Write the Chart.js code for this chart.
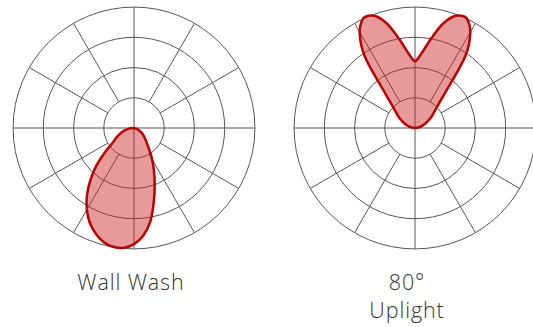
<!DOCTYPE html>
<html>
<head>
<meta charset="utf-8">
<script src="https://cdn.jsdelivr.net/npm/chart.js@4/dist/chart.umd.min.js"></script>
<style>
  html, body { margin: 0; padding: 0; background: #fff; }
  body { width: 533px; height: 327px; overflow: hidden; position: relative;
         font-family: "Open Sans", "Lato", sans-serif; font-weight: 300; color: #333; }
  .plot { position: absolute; width: 260px; height: 260px; }
  .caption { position: absolute; width: 200px; text-align: center;
             font-size: 21.5px; line-height: 28px; letter-spacing: 0.9px; }
</style>
</head>
<body>
<div class="plot" style="left:4px; top:-2px;"><canvas id="wallWash" width="260" height="260"></canvas></div>
<div class="plot" style="left:285px; top:-2px;"><canvas id="uplight" width="260" height="260"></canvas></div>
<div class="caption" style="left:31px; top:268px;">Wall Wash</div>
<div class="caption" style="left:307px; top:268px;">80°<br>Uplight</div>

<script>
// Photometric polar plots: angle is measured clockwise from straight up (0° = up, 180° = down),
// intensity is given in ring units (outer ring = 4).
const angleStep = 5;
const angles = Array.from({ length: 360 / angleStep }, (_, i) => i * angleStep);
const ringValues = [1, 2, 3, 4];
const spokeAngles = [0, 30, 60, 90, 120, 150, 180, 210, 240, 270, 300, 330];

// Wall Wash: asymmetric lobe thrown down and towards the left
const wallWash = [
  0, 0, 0, 0, 0, 0, 0, 0, 0, 0, 0, 0,            //   0 – 55
  0, 0, 0, 0, 0, 0, 0, 0,                        //  60 – 95
  0, 0.06, 0.12, 0.19,                           // 100 – 115
  0.27, 0.35, 0.43, 0.53, 0.67, 0.88,            // 120 – 145
  1.2, 1.56, 2.0, 2.53, 3.13, 3.57,              // 150 – 175
  3.84, 3.98, 3.99, 3.9, 3.71, 3.46,             // 180 – 205
  3.12, 2.71, 2.24, 1.76, 1.25, 0.88,            // 210 – 235
  0.7, 0.57, 0.45, 0.33, 0.22, 0.11,             // 240 – 265
  0, 0, 0, 0, 0, 0, 0, 0, 0, 0, 0, 0,            // 270 – 325
  0, 0, 0, 0, 0, 0                               // 330 – 355
];

// 80° Uplight: twin lobes pointing upwards
const uplight80 = [
  2.21, 2.48, 2.98, 3.57, 3.95, 4.02,            //   0 – 25
  3.66, 2.9, 1.62, 1.09, 0.83, 0.68,             //  30 – 55
  0.53, 0.41, 0.31, 0.22, 0.14, 0.07,            //  60 – 85
  0, 0, 0, 0, 0, 0,                              //  90 – 115
  0, 0, 0, 0, 0, 0, 0, 0, 0, 0, 0, 0,            // 120 – 175
  0, 0, 0, 0, 0, 0, 0, 0, 0, 0, 0, 0,            // 180 – 235
  0, 0, 0, 0, 0, 0,                              // 240 – 265
  0, 0.07, 0.14, 0.22, 0.31, 0.41,               // 270 – 295
  0.53, 0.68, 0.83, 1.09, 1.62, 2.9,             // 300 – 325
  3.66, 4.02, 3.95, 3.57, 2.98, 2.48             // 330 – 355
];

const GRID_COLOR = '#555555';
const LINE_COLOR = '#b30000';
const FILL_COLOR = 'rgba(204, 30, 30, 0.45)';
const SCALE_MAX = 4.3;

// Rings and spokes of the polar grid, drawn under the light distribution.
// The diagonal spokes start at the first ring; the four main axes cross the centre.
const polarGrid = {
  id: 'polarGrid',
  beforeDatasetsDraw(chart) {
    const r = chart.scales.r;
    const ctx = chart.ctx;
    ctx.save();
    ctx.strokeStyle = GRID_COLOR;
    ctx.lineWidth = 1;
    ringValues.forEach(v => {
      ctx.beginPath();
      ctx.arc(r.xCenter, r.yCenter, r.getDistanceFromCenterForValue(v), 0, Math.PI * 2);
      ctx.stroke();
    });
    spokeAngles.forEach(a => {
      const idx = angles.indexOf(a);
      const from = (a % 90 === 0) ? 0 : ringValues[0];
      const p0 = r.getPointPositionForValue(idx, from);
      const p1 = r.getPointPositionForValue(idx, ringValues[ringValues.length - 1]);
      ctx.beginPath();
      ctx.moveTo(p0.x, p0.y);
      ctx.lineTo(p1.x, p1.y);
      ctx.stroke();
    });
    ctx.restore();
  }
};

function polarPlot(id, values) {
  return new Chart(document.getElementById(id), {
    type: 'radar',
    data: {
      labels: angles.map(a => a + '°'),
      datasets: [{
        data: values,
        borderColor: LINE_COLOR,
        borderWidth: 2.5,
        backgroundColor: FILL_COLOR,
        fill: true,
        tension: 0.3,
        pointRadius: 0,
        pointHoverRadius: 0
      }]
    },
    options: {
      responsive: false,
      animation: false,
      events: [],
      plugins: { legend: { display: false }, tooltip: { enabled: false } },
      scales: {
        r: {
          min: 0,
          max: SCALE_MAX,
          ticks: { display: false, stepSize: 1 },
          grid: { display: false },
          angleLines: { display: false },
          pointLabels: { display: false }
        }
      }
    },
    plugins: [polarGrid]
  });
}

polarPlot('wallWash', wallWash);
polarPlot('uplight', uplight80);
</script>
</body>
</html>
